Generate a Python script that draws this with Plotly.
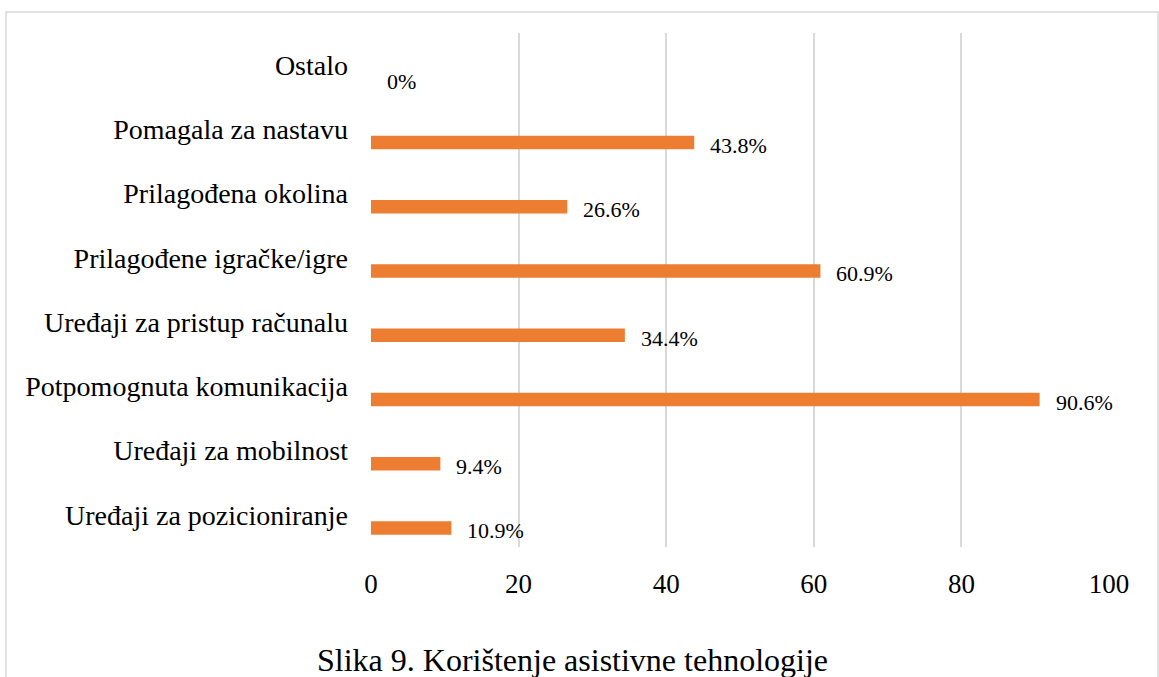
import plotly.graph_objects as go

categories = [
    "Ostalo",
    "Pomagala za nastavu",
    "Prilagođena okolina",
    "Prilagođene igračke/igre",
    "Uređaji za pristup računalu",
    "Potpomognuta komunikacija",
    "Uređaji za mobilnost",
    "Uređaji za pozicioniranje",
]
values = [0, 43.8, 26.6, 60.9, 34.4, 90.6, 9.4, 10.9]
value_labels = ["0%", "43.8%", "26.6%", "60.9%", "34.4%", "90.6%", "9.4%", "10.9%"]
x_ticks = [0, 20, 40, 60, 80, 100]
caption = "Slika 9. Korištenje asistivne tehnologije"

FONT = "Liberation Serif, Times New Roman, serif"
W, H = 1159, 677
ML, MR, MT, MB = 371, 50, 33, 130

fig = go.Figure()
fig.add_trace(go.Bar(
    x=values, y=categories, orientation="h",
    marker=dict(color="#ED7D31", line=dict(width=0)),
    width=0.21, offset=0.1,
    hoverinfo="x+y",
))

for v, c, t in zip(values, categories, value_labels):
    fig.add_annotation(
        x=v, y=c, text=t, showarrow=False,
        xanchor="left", yanchor="middle",
        xshift=14, yshift=-16,
        font=dict(family=FONT, size=22, color="#000000"),
    )

pw = W - ML - MR
ph = H - MT - MB
fig.add_shape(
    type="rect", xref="x domain", yref="y domain",
    x0=(6 - ML) / pw, x1=(1158 - ML) / pw,
    y0=(MT + ph - 690) / ph, y1=1 + (MT - 12) / ph,
    line=dict(color="#d9d9d9", width=1.5), fillcolor="rgba(0,0,0,0)",
    layer="below",
)

fig.add_annotation(
    xref="paper", yref="paper",
    x=(572 - ML) / pw, y=-(660 - MT - ph) / ph,
    text=caption, showarrow=False, xanchor="center", yanchor="middle",
    font=dict(family=FONT, size=32, color="#000000"),
)

fig.update_layout(
    width=W, height=H,
    margin=dict(l=ML, r=MR, t=MT, b=MB, pad=0),
    paper_bgcolor="white", plot_bgcolor="white",
    showlegend=False,
    font=dict(family=FONT, color="#000000"),
    xaxis=dict(
        range=[0, 100], tickvals=x_ticks, ticktext=[str(t) for t in x_ticks],
        showgrid=True, gridcolor="#d9d9d9", gridwidth=1.5,
        zeroline=False, showline=False, ticks="",
        tickfont=dict(family=FONT, size=27, color="#000000"),
        ticklabelstandoff=18,
    ),
    yaxis=dict(
        autorange="reversed", type="category",
        showgrid=False, zeroline=False, showline=False, ticks="",
        tickfont=dict(family=FONT, size=28, color="#000000"),
        ticklabelstandoff=22,
    ),
)

fig.write_html(
    "out.html",
    config={"displayModeBar": False},
    post_script="document.body.style.margin='0';document.body.style.overflow='hidden';",
)
